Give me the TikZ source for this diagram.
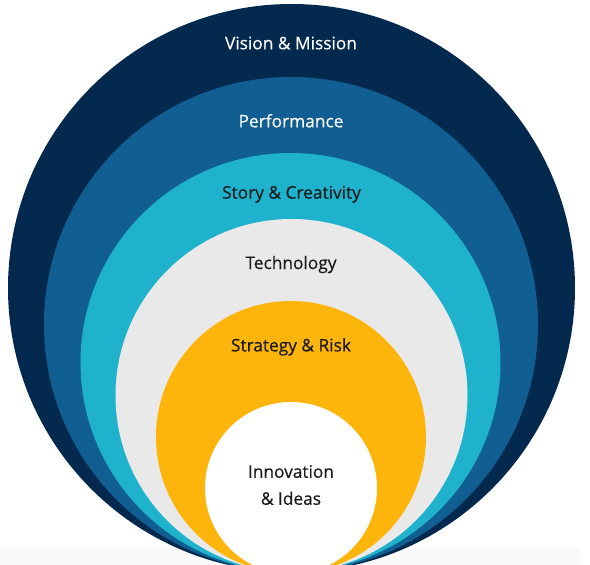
\documentclass[tikz,border=0pt]{standalone}
\usepackage{fontspec}
\setmainfont{Open Sans}
\newfontfamily\lblfont[FakeBold=0.35]{Open Sans}
\definecolor{navy}{HTML}{03294F}
\definecolor{midblue}{HTML}{115F92}
\definecolor{cyanband}{HTML}{1FB2CD}
\definecolor{greyband}{HTML}{E9E9E9}
\definecolor{orangeband}{HTML}{FDB40B}
\definecolor{stripgrey}{HTML}{FAFAFA}
\definecolor{darktext}{HTML}{1A1A1A}
\begin{document}
\begin{tikzpicture}[x=1pt,y=-1pt,
  lbl/.style={font=\lblfont\fontsize{17.3}{27}\selectfont, inner sep=0pt, anchor=base},
  lightlbl/.style={lbl, text=white},
  darklbl/.style={lbl, text=darktext}]
\useasboundingbox (0,0) rectangle (590,565);
\clip (0,0) rectangle (590,565);
\fill[stripgrey] (0,548) rectangle (580,565);
% nested circles, tangent near the bottom
\fill[navy]       (291.5,288)   ellipse [x radius=283.5pt, y radius=284pt];
\fill[midblue]    (291,324.5)   ellipse [x radius=247pt, y radius=247.5pt];
\fill[cyanband]   (290.5,362.5) ellipse [x radius=210pt, y radius=209.5pt];
\fill[greyband]   (291.5,395.5) ellipse [x radius=176pt, y radius=176.5pt];
\fill[orangeband] (291,437)     ellipse [x radius=135pt, y radius=136pt];
\fill[white]      (291,488)     ellipse [x radius=86pt, y radius=86pt];
% labels
\node[lightlbl] (vision) at (291,49.3) {Vision \& Mission};
\node[lightlbl] (perf)   at (291,127.3) {Performance};
\node[darklbl]  (story)  at (291.5,198.6) {Story \& Creativity};
\node[darklbl]  (tech)   at (291,269) {Technology};
\node[darklbl]  (strat)  at (291,351.4) {Strategy \& Risk};
\node[darklbl, anchor=center, align=center] (innov) at (291,485) {Innovation\\\& Ideas};
\end{tikzpicture}
\end{document}
